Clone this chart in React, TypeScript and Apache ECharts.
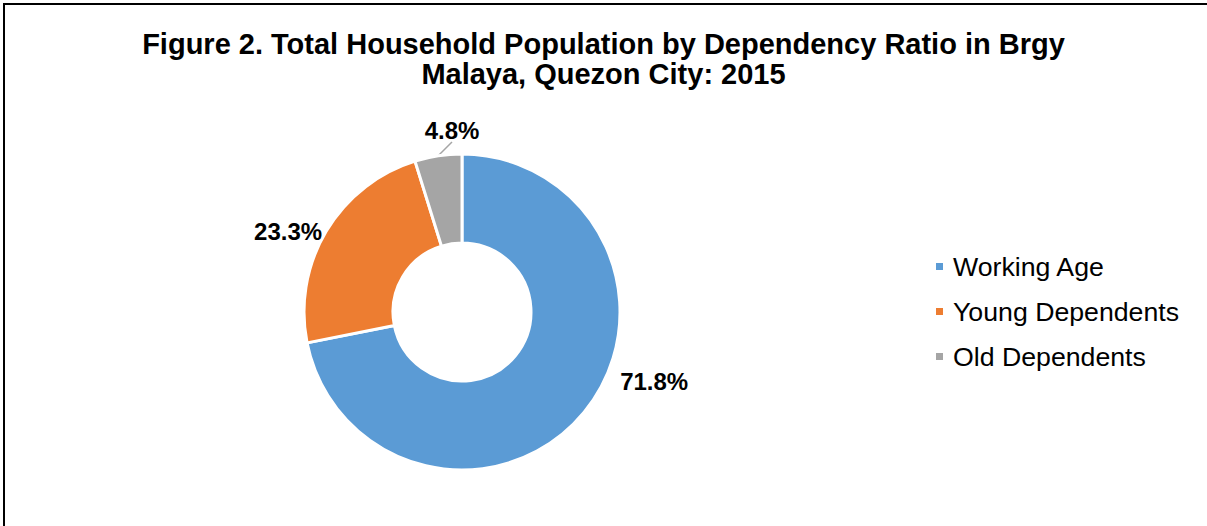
import React, { useEffect, useRef } from "react";
import * as echarts from "echarts";

const categories = ["Working Age", "Young Dependents", "Old Dependents"];
const values = [71.8, 23.3, 4.8];
const colors = ["#5B9BD5", "#ED7D31", "#A5A5A5"];
const titleLines = [
  "Figure 2. Total Household Population by Dependency Ratio in Brgy",
  "Malaya, Quezon City: 2015",
];
const showLeader = [false, false, true];
// label placement tweaks (nudges from default outside position, or an absolute anchor)
const labelNudge = [
  [31, -31],
  [1, 0],
  [0, 0],
];
const leaderLabelAnchor = [452, 130];

const FONT = '"Liberation Sans", Arial, Helvetica, sans-serif';

export default function App() {
  const ref = useRef<HTMLDivElement>(null);
  useEffect(() => {
    if (!ref.current) return;
    const chart = echarts.init(ref.current, undefined, { renderer: "svg" });
    chart.setOption({
      animation: false,
      backgroundColor: "#ffffff",
      title: {
        text: titleLines.join("\n"),
        left: "center",
        top: 29,
        padding: [0, 0, 0, 7],
        textStyle: {
          fontFamily: FONT,
          fontSize: 29,
          fontWeight: "bold",
          color: "#000000",
          lineHeight: 30,
        },
      },
      legend: {
        orient: "vertical",
        left: 929,
        top: 248,
        icon: "rect",
        itemWidth: 9,
        itemHeight: 9,
        itemGap: 18,
        data: categories,
        textStyle: {
          fontFamily: FONT,
          fontSize: 26.7,
          lineHeight: 27,
          color: "#000000",
          padding: [0, 0, 0, 4],
        },
      },
      graphic: [
        {
          type: "polyline",
          shape: { points: [[4, 526], [4, 4], [1207, 4]] },
          style: { stroke: "#000000", lineWidth: 2, fill: "none" },
          silent: true,
        },
      ],
      series: [
        {
          type: "pie",
          center: [462, 312],
          radius: [69, 158],
          startAngle: 90,
          clockwise: true,
          avoidLabelOverlap: false,
          color: colors,
          itemStyle: { borderColor: "#ffffff", borderWidth: 3 },
          label: {
            show: true,
            position: "outside",
            formatter: (p: any) => p.value.toFixed(1) + "%",
            fontFamily: FONT,
            fontSize: 24,
            fontWeight: "bold",
            color: "#000000",
          },
          labelLine: {
            length: 8,
            length2: 0,
            lineStyle: { color: "#A5A5A5", width: 1.5 },
          },
          labelLayout: (params: any) => {
            const i = params.dataIndex;
            if (showLeader[i]) {
              return {
                x: leaderLabelAnchor[0],
                y: leaderLabelAnchor[1],
                align: "center",
                verticalAlign: "middle",
              };
            }
            const n = labelNudge[i];
            return { dx: n[0], dy: n[1] };
          },
          emphasis: { disabled: true },
          data: categories.map((name, i) => ({
            name,
            value: values[i],
            labelLine: { show: showLeader[i], length: showLeader[i] ? 8 : 0, length2: 0 },
          })),
        },
      ],
    });
    return () => chart.dispose();
  }, []);
  return (
    <div
      ref={ref}
      style={{ position: "absolute", left: 0, top: 0, width: 1207, height: 526 }}
    />
  );
}
